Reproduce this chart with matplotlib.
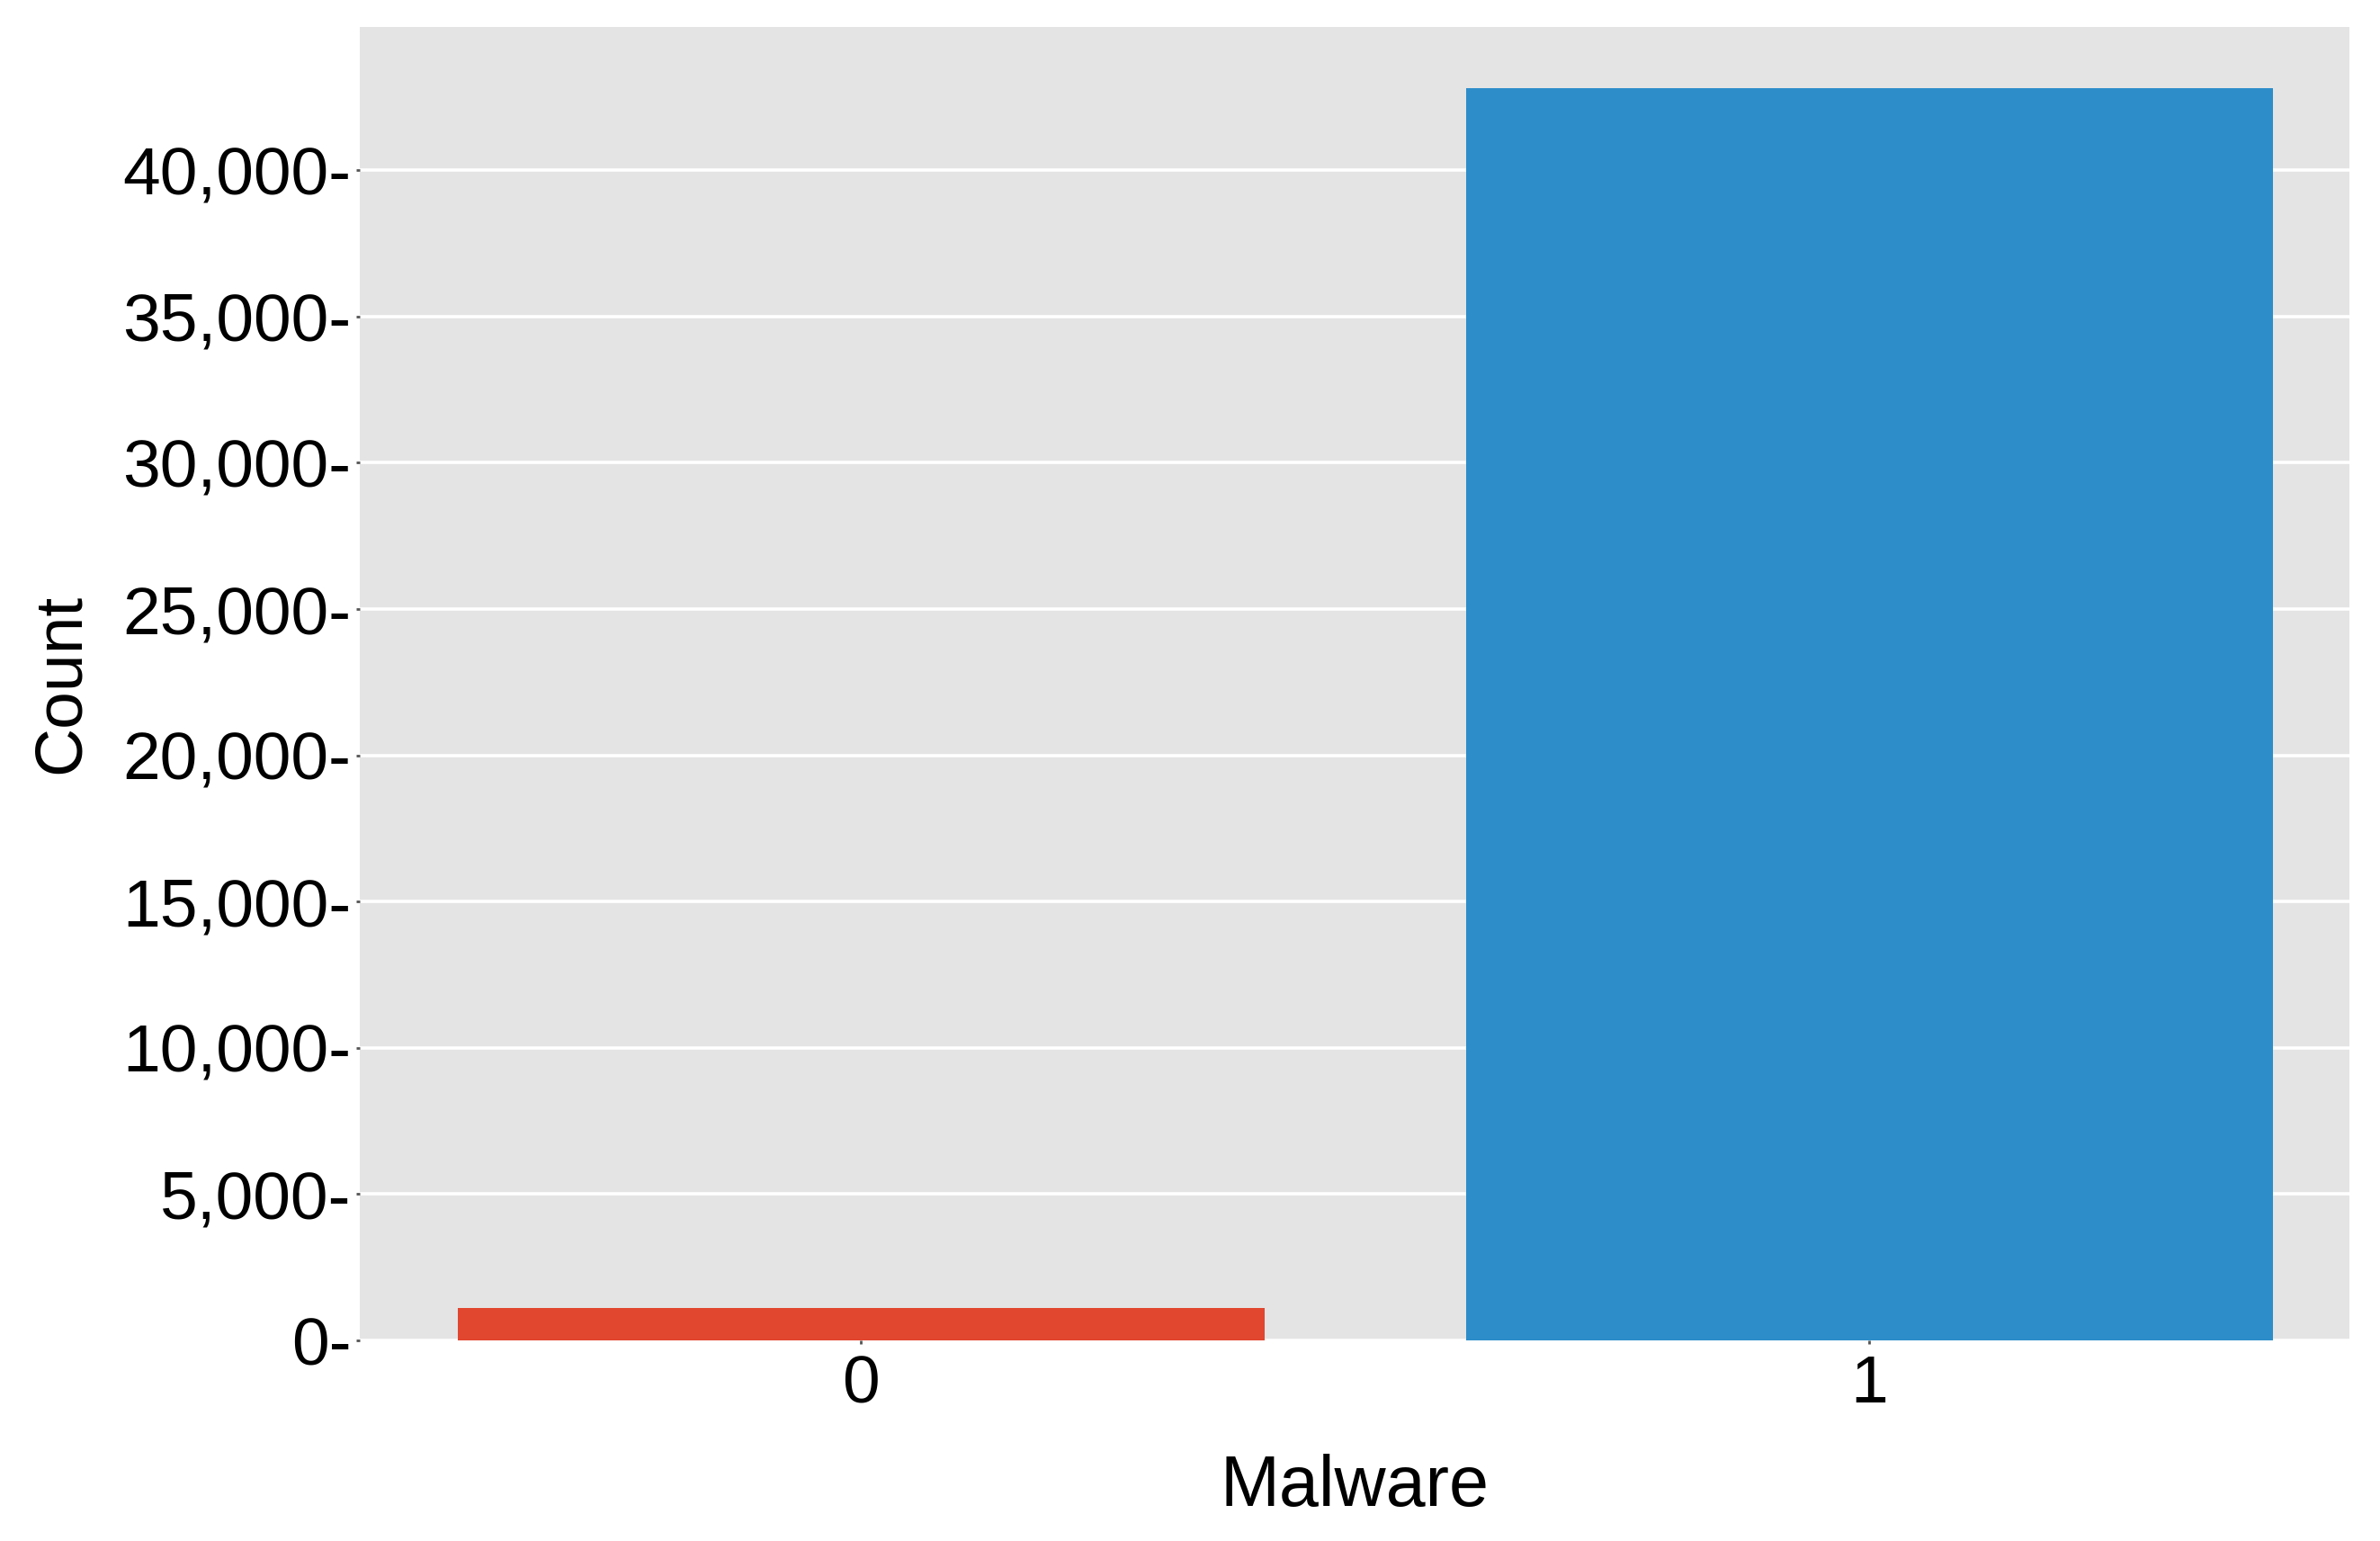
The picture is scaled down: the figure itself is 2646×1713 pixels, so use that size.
import matplotlib
matplotlib.use("Agg")
import matplotlib.pyplot as plt
from matplotlib.ticker import FixedLocator, FuncFormatter

categories = ["0", "1"]
counts = [1100, 42800]
bar_colors = ["#E1462F", "#2D8DC9"]
yticks = [0, 5000, 10000, 15000, 20000, 25000, 30000, 35000, 40000]

plt.rcParams['font.family'] = ['Liberation Sans', 'DejaVu Sans']

W, H = 2646, 1713
fig = plt.figure(figsize=(W / 100, H / 100), dpi=100)
left, right, top, bottom = 400, 2612, 30, 1490
ax = fig.add_axes([left / W, 1 - bottom / H, (right - left) / W, (bottom - top) / H])
ax.set_facecolor("#E4E4E4")

x = list(range(len(categories)))
ax.bar(x, counts, width=0.8, color=bar_colors, edgecolor="none", zorder=3)

ax.set_xlim(-0.497, 1.476)
ax.set_ylim(0, 44900)
ax.yaxis.set_major_locator(FixedLocator(yticks))
ax.yaxis.set_major_formatter(FuncFormatter(lambda v, p: f"{int(v):,}-"))
ax.set_xticks(x)
ax.set_xticklabels(categories)
ax.grid(axis="y", color="white", linewidth=2.6, zorder=1)
ax.grid(axis="x", visible=False)
for s in ax.spines.values():
    s.set_visible(False)
ax.tick_params(axis="y", labelsize=54, length=3, width=2, color="#555555", pad=4)
ax.tick_params(axis="x", labelsize=54, length=3, width=2, color="#555555", pad=8)
ax.set_xlabel("Malware", fontsize=57, labelpad=30)
ax.set_ylabel("Count", fontsize=54, labelpad=24)

fig.savefig("out.png", dpi=100, facecolor="white")
